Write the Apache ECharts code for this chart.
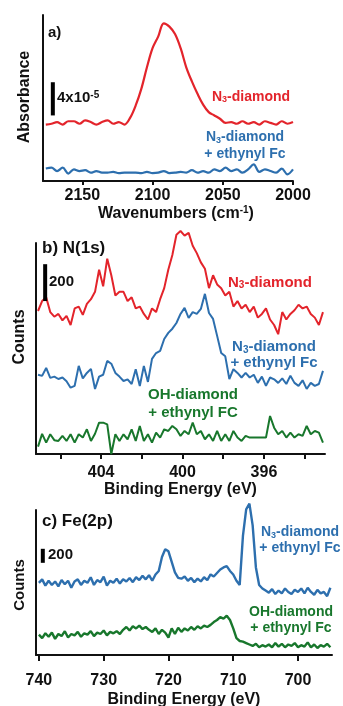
<!DOCTYPE html>
<html>
<head>
<meta charset="utf-8">
<script src="https://cdn.jsdelivr.net/npm/echarts@6.0.0/dist/echarts.min.js"></script>
<style>
  html, body { margin: 0; padding: 0; background: #fff; }
  #chart { width: 343px; height: 706px; }
</style>
</head>
<body>
<div id="chart"></div>
<script>
// a) IR absorbance, y in units of 1e-5 (curves offset)
const irWavenumbers = [
  2176, 2172, 2168, 2164, 2160, 2156, 2152, 2148, 2144, 2140,
  2136, 2132, 2128, 2124, 2120, 2116, 2112, 2108, 2104, 2100,
  2096, 2092, 2088, 2084, 2080, 2076, 2072, 2068, 2064, 2060,
  2056, 2052, 2048, 2044, 2040, 2036, 2032, 2028, 2024, 2020,
  2016, 2012, 2008, 2004, 2000
];
const irN3Diamond = [
  6.8, 6.9, 7.1, 6.8, 7.2, 7.2, 6.9, 7.3, 7.1, 6.8,
  7.1, 7.3, 6.9, 7.1, 6.8, 7.6, 9.1, 11.1, 13.7, 16.0,
  17.4, 19.0, 18.6, 17.7, 16.0, 13.7, 12.0, 10.5, 9.2, 8.3,
  7.9, 7.5, 7.0, 7.1, 6.9, 7.2, 6.9, 7.1, 6.8, 7.2,
  7.0, 6.8, 7.2, 6.9, 7.1
];
const irN3Fc = [
  1.5, 1.6, 1.2, 1.6, 0.9, 1.4, 1.2, 1.3, 1.0, 1.2,
  1.0, 1.0, 1.1, 0.95, 1.0, 1.0, 1.0, 0.95, 1.1, 0.95,
  1.0, 1.2, 0.95, 1.0, 1.1, 1.0, 1.3, 1.0, 1.2, 1.0,
  1.4, 1.2, 1.6, 1.2, 1.4, 1.0, 1.4, 2.0, 1.1, 1.4,
  1.2, 1.0, 1.5, 0.8, 1.4
];
const irTicks = [2150, 2100, 2050, 2000];
const irScaleBar = [[2171, 7.9], [2171, 11.9]];   // 4x10^-5

// b) N(1s) XPS counts (curves offset)
const n1sEnergy = [
  407.1, 406.9, 406.7, 406.5, 406.3, 406.1, 405.9, 405.7, 405.5, 405.3,
  405.1, 404.9, 404.7, 404.5, 404.3, 404.1, 403.9, 403.7, 403.5, 403.3,
  403.1, 402.9, 402.7, 402.5, 402.3, 402.1, 401.9, 401.7, 401.5, 401.3,
  401.1, 400.9, 400.7, 400.5, 400.3, 400.1, 399.9, 399.7, 399.5, 399.3,
  399.1, 398.9, 398.7, 398.5, 398.3, 398.1, 397.9, 397.7, 397.5, 397.3,
  397.1, 396.9, 396.7, 396.5, 396.3, 396.1, 395.9, 395.7, 395.5, 395.3,
  395.1, 394.9, 394.7, 394.5, 394.3, 394.1, 393.9, 393.7, 393.5, 393.3,
  393.1
];
const n1sN3Diamond = [
  776, 830, 850, 770, 745, 760, 725, 750, 700, 790,
  800, 755, 815, 840, 880, 1000, 910, 1060, 970, 860,
  880, 880, 830, 850, 790, 800, 760, 730, 790, 770,
  840, 900, 1000, 1080, 1190, 1210, 1185, 1200, 1130, 1090,
  1040, 1005, 900, 970, 920, 900, 860, 880, 800, 830,
  790, 810, 770, 800, 740, 760, 790, 730, 700, 650,
  770, 730, 760, 780, 810, 790, 800, 760, 740, 700,
  770
];
const n1sN3Fc = [
  430, 424, 467, 413, 420, 407, 415, 395, 360, 370,
  478, 410, 440, 462, 353, 420, 430, 505, 490, 440,
  420, 396, 405, 380, 460, 369, 478, 391, 516, 548,
  560, 624, 657, 680, 711, 760, 793, 738, 770, 760,
  787, 869, 765, 733, 641, 548, 530, 407, 460, 440,
  415, 440, 415, 430, 386, 420, 370, 415, 405, 386,
  410, 380, 425, 386, 370, 400, 353, 386, 370, 380,
  451
];
const n1sOHFc = [
  40, 109, 62, 107, 75, 71, 98, 71, 107, 62,
  107, 89, 134, 71, 110, 170, 170, 161, 0, 107,
  71, 107, 80, 134, 71, 152, 71, 107, 62, 116,
  89, 134, 125, 152, 134, 98, 125, 107, 170, 107,
  125, 80, 107, 71, 125, 71, 107, 71, 125, 89,
  71, 98, 89, 89, 89, 89, 89, 206, 143, 107,
  125, 89, 116, 89, 107, 98, 152, 107, 125, 116,
  62
];
const n1sTicks = [406, 404, 402, 400, 398, 396, 394];
const n1sTickLabels = [404, 400, 396];
const n1sScaleBar = [[406.75, 830], [406.75, 1030]];   // 200 counts

// c) Fe(2p) XPS counts (curves offset)
const fe2pEnergy = [
  740, 739.5, 739, 738.5, 738, 737.5, 737, 736.5, 736, 735.5,
  735, 734.5, 734, 733.5, 733, 732.5, 732, 731.5, 731, 730.5,
  730, 729.5, 729, 728.5, 728, 727.5, 727, 726.5, 726, 725.5,
  725, 724.5, 724, 723.5, 723, 722.5, 722, 721.5, 721, 720.5,
  720, 719.5, 719, 718.5, 718, 717.5, 717, 716.5, 716, 715.5,
  715, 714.5, 714, 713.5, 713, 712.5, 712, 711.5, 711, 710.5,
  710, 709.5, 709, 708.5, 708, 707.5, 707, 706.5, 706, 705.5,
  705, 704.5, 704, 703.5, 703, 702.5, 702, 701.5, 701, 700.5,
  700, 699.5, 699, 698.5, 698, 697.5, 697, 696.5, 696, 695.5,
  695
];
const fe2pN3Fc = [
  1030, 1080, 990, 1060, 1000, 1050, 980, 1070, 1010, 1060,
  960, 1050, 1080, 1000, 1060, 1030, 1110, 1000, 1070, 1040,
  1120, 990, 1060, 1030, 1090, 1020, 1080, 1050, 1100, 1040,
  1110, 1070, 1130, 1080, 1140, 1060, 1150, 1200, 1400, 1510,
  1480, 1330, 1180, 1100, 1090, 1120, 1060, 1100, 1040, 1090,
  1050, 1110, 1070, 1150, 1120, 1170, 1220, 1250, 1270, 1200,
  1150, 1060, 1000, 1700, 2080, 2160, 1850, 1250, 1000, 950,
  920, 890, 940, 870, 920, 880, 950, 900, 870, 930,
  900, 950, 880, 960, 900, 860, 930, 880, 900, 840,
  960
];
const fe2pOHFc = [
  290, 240, 310, 260, 320, 230, 300, 270, 340, 250,
  300, 280, 330, 260, 310, 290, 340, 270, 320, 300,
  350, 280, 330, 310, 340, 300, 360, 400, 350, 410,
  380, 420, 370, 400, 360, 330, 380, 300, 360, 320,
  250, 380, 300, 390, 330, 380, 350, 400, 360, 410,
  380, 420, 400, 430, 470, 500, 540, 520, 560, 500,
  380, 240, 200, 190, 170, 150, 130, 160, 110, 140,
  120, 150, 110, 170, 120, 160, 110, 150, 130, 170,
  110, 140, 120, 180, 110, 150, 100, 140, 120, 160,
  110
];
const fe2pTicks = [740, 730, 720, 710, 700];
const fe2pScaleBar = [[739.4, 1316], [739.4, 1516]];   // 200 counts

const FONT = '"Liberation Sans", Arial, Helvetica, sans-serif';
const RED = '#e3242b';
const BLUE = '#2d6fae';
const GREEN = '#18772c';
const INK = '#111';

function pairs(xs, ys) {
  if (xs.length !== ys.length) throw new Error('length mismatch ' + xs.length + ' vs ' + ys.length);
  return xs.map((x, i) => [x, ys[i]]);
}

function xAxis(gridIndex, min, max, ticks, labels, tickLen, margin, name, nameGap, namePad) {
  return {
    type: 'value', gridIndex, min, max, inverse: true,
    axisLine: { show: true, onZero: false, lineStyle: { color: INK, width: 2 } },
    axisTick: { show: true, length: tickLen, customValues: ticks, lineStyle: { color: INK, width: 2 } },
    axisLabel: {
      customValues: labels, margin, color: INK, fontSize: 16, fontWeight: 'bold', fontFamily: FONT,
      formatter: (v) => String(v)
    },
    splitLine: { show: false },
    name, nameLocation: 'middle', nameGap,
    nameTextStyle: {
      color: INK, fontSize: 16, fontWeight: 'bold', fontFamily: FONT,
      padding: namePad || 0,
      rich: {
        t: { color: INK, fontSize: 16, fontWeight: 'bold', fontFamily: FONT, lineHeight: 18 },
        sup: { color: INK, fontSize: 10, fontWeight: 'bold', fontFamily: FONT, verticalAlign: 'top' }
      }
    }
  };
}

function yAxis(gridIndex, max) {
  return {
    type: 'value', gridIndex, min: 0, max,
    axisLine: { show: true, onZero: false, lineStyle: { color: INK, width: 2 } },
    axisTick: { show: false }, axisLabel: { show: false }, splitLine: { show: false }
  };
}

function curve(idx, data, color, smooth, width) {
  return {
    type: 'line', xAxisIndex: idx, yAxisIndex: idx, data,
    symbol: 'none', smooth: smooth || false, clip: false, animation: false,
    lineStyle: { color, width: width || 2 }
  };
}

function scaleBar(idx, data) {
  return {
    type: 'line', xAxisIndex: idx, yAxisIndex: idx, data,
    symbol: 'none', clip: false, animation: false,
    lineStyle: { color: '#000', width: 4, cap: 'butt' }
  };
}

function rich(color, size) {
  return {
    m: { fontSize: size, fontWeight: 'bold', fontFamily: FONT, fill: color, color: color },
    s: { fontSize: Math.round(size * 0.65), fontWeight: 'bold', fontFamily: FONT, fill: color, color: color, verticalAlign: 'bottom' },
    p: { fontSize: Math.round(size * 0.65), fontWeight: 'bold', fontFamily: FONT, fill: color, color: color, verticalAlign: 'top' }
  };
}

function text(x, y, str, color, size, align, extra) {
  return Object.assign({
    type: 'text', x, y, silent: true,
    style: {
      text: str, rich: rich(color, size), fill: color,
      font: 'bold ' + size + 'px ' + FONT,
      align: align || 'left', textAlign: align || 'left',
      verticalAlign: 'middle', textVerticalAlign: 'middle'
    }
  }, extra || {});
}

function twoLines(x, yTop, line1, line2, color, size, lh) {
  const r = rich(color, size);
  r.m.lineHeight = lh;
  return {
    type: 'text', x, y: yTop, silent: true,
    style: {
      text: line1 + '\n' + line2, rich: r, fill: color,
      align: 'center', textAlign: 'center',
      verticalAlign: 'top', textVerticalAlign: 'top'
    }
  };
}

const N3 = '{m|N}{s|3}{m|-diamond}';

const chart = echarts.init(document.getElementById('chart'), null, { renderer: 'canvas' });

chart.setOption({
  backgroundColor: '#fff',
  animation: false,
  grid: [
    { left: 43, right: 50, top: 15, bottom: 525, containLabel: false, outerBoundsMode: 'none' },
    { left: 36, right: 18, top: 243, bottom: 252, containLabel: false, outerBoundsMode: 'none' },
    { left: 36, right: 11, top: 510, bottom: 51, containLabel: false, outerBoundsMode: 'none' }
  ],
  xAxis: [
    xAxis(0, 2000, 2178, irTicks, irTicks, 4, 7, '{t|Wavenumbers (cm}{sup|-1}{t|)}', 22, [0, 0, 0, 16]),
    xAxis(1, 393.0, 407.2, n1sTicks, n1sTickLabels, 5, 11, '{t|Binding Energy (eV)}', 27),
    xAxis(2, 694.75, 740.45, fe2pTicks, fe2pTicks, 6, 18, '{t|Binding Energy (eV)}', 36)
  ],
  yAxis: [
    yAxis(0, 20),
    yAxis(1, 1145),
    yAxis(2, 2070)
  ],
  series: [
    curve(0, pairs(irWavenumbers, irN3Diamond), RED, 0.35, 2.2),
    curve(0, pairs(irWavenumbers, irN3Fc), BLUE, 0.35, 2.2),
    scaleBar(0, irScaleBar),
    curve(1, pairs(n1sEnergy, n1sN3Diamond), RED),
    curve(1, pairs(n1sEnergy, n1sN3Fc), BLUE),
    curve(1, pairs(n1sEnergy, n1sOHFc), GREEN),
    scaleBar(1, n1sScaleBar),
    curve(2, pairs(fe2pEnergy, fe2pN3Fc), BLUE, false, 2.4),
    curve(2, pairs(fe2pEnergy, fe2pOHFc), GREEN, false, 2.4),
    scaleBar(2, fe2pScaleBar)
  ],
  graphic: [
    // panel a
    text(48, 33, '{m|a)}', INK, 15),
    text(57, 98, '{m|4x10}{p|-5}', INK, 15),
    text(212, 97, N3, RED, 14),
    twoLines(245, 128.5, N3, '{m|+ ethynyl Fc}', BLUE, 14, 17),
    text(25, 97, '{m|Absorbance}', INK, 16, 'center', { rotation: Math.PI / 2 }),
    // panel b
    text(42, 248, '{m|b) N(1s)}', INK, 17),
    text(49, 282, '{m|200}', INK, 15),
    text(228, 283, N3, RED, 15),
    twoLines(274, 339, N3, '{m|+ ethynyl Fc}', BLUE, 15, 16),
    twoLines(193, 386, '{m|OH-diamond}', '{m|+ ethynyl FC}', GREEN, 15, 18),
    text(20, 337, '{m|Counts}', INK, 16, 'center', { rotation: Math.PI / 2 }),
    // panel c
    text(42, 521, '{m|c) Fe(2p)}', INK, 17),
    text(48, 555, '{m|200}', INK, 15),
    twoLines(300, 524, N3, '{m|+ ethynyl Fc}', BLUE, 14, 16),
    twoLines(291, 604, '{m|OH-diamond}', '{m|+ ethynyl Fc}', GREEN, 14, 16),
    text(20, 585, '{m|Counts}', INK, 15, 'center', { rotation: Math.PI / 2 })
  ]
});
</script>
</body>
</html>
